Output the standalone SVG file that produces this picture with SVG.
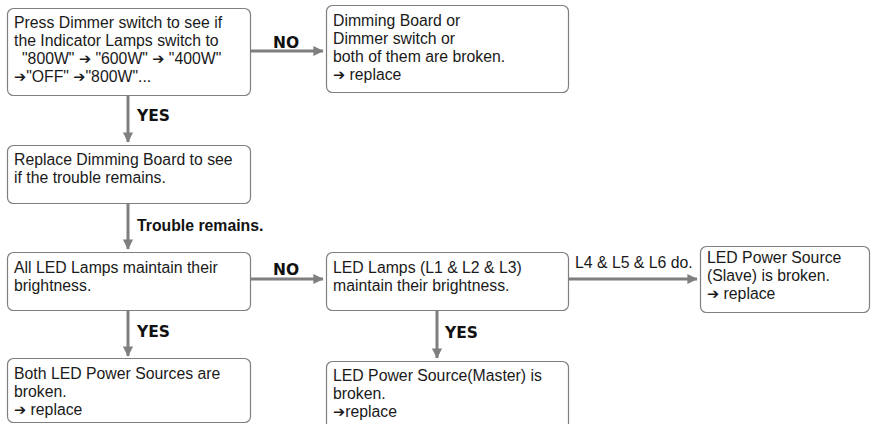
<svg xmlns="http://www.w3.org/2000/svg" width="873" height="424" viewBox="0 0 873 424">
<defs>
<marker id="ah" markerWidth="4" markerHeight="4" refX="3.2" refY="2" orient="auto" markerUnits="strokeWidth">
<path d="M0,0.3 L3.4,2 L0,3.7 Z" fill="#7f7f7f"/>
</marker>
<style>
.box{fill:#fff;stroke:#7f7f7f;stroke-width:1.2}
.t{font-family:"Liberation Sans",Arial,sans-serif;font-size:15.8px;fill:#1a1a1a}
.lb{font-family:"Liberation Sans",Arial,sans-serif;font-size:15.8px;font-weight:bold;fill:#111}
.h{font-family:"DejaVu Sans",sans-serif;font-size:15.5px;font-weight:bold;fill:#111}
.a{font-family:"DejaVu Sans",sans-serif;font-size:14.5px}
.c{stroke:#7f7f7f;stroke-width:3;fill:none;marker-end:url(#ah)}
</style>
</defs>
<rect width="873" height="424" fill="#fff"/>
<g id="connectors">
<line class="c" x1="250" y1="51" x2="323" y2="51"/>
<line class="c" x1="128" y1="96" x2="128" y2="142"/>
<line class="c" x1="128" y1="204" x2="128" y2="249"/>
<line class="c" x1="250" y1="279" x2="323" y2="279"/>
<line class="c" x1="569" y1="279" x2="697" y2="279"/>
<line class="c" x1="128" y1="311" x2="128" y2="356"/>
<line class="c" x1="437" y1="311" x2="437" y2="358"/>
<text class="h" x="273" y="48">NO</text>
<text class="h" x="137" y="121">YES</text>
<text class="lb" x="137" y="231">Trouble remains.</text>
<text class="h" x="273" y="275">NO</text>
<text class="t" x="575" y="268">L4 &amp; L5 &amp; L6 do.</text>
<text class="h" x="137" y="337">YES</text>
<text class="h" x="445" y="338">YES</text>
</g>
<g id="n1">
<rect class="box" x="7.5" y="8.5" width="243" height="87" rx="6"/>
<text class="t" x="14" y="28">Press Dimmer switch to see if</text>
<text class="t" x="14" y="46">the Indicator Lamps switch to</text>
<text class="t" x="22" y="64">"800W" <tspan class="a">➔</tspan> "600W" <tspan class="a">➔</tspan> "400W"</text>
<text class="t" x="14" y="82"><tspan class="a">➔</tspan>"OFF" <tspan class="a">➔</tspan>"800W"...</text>
</g>
<g id="n2">
<rect class="box" x="326.5" y="5.5" width="242" height="87" rx="6"/>
<text class="t" x="333" y="26">Dimming Board or</text>
<text class="t" x="333" y="44">Dimmer switch or</text>
<text class="t" x="333" y="62">both of them are broken.</text>
<text class="t" x="333" y="80"><tspan class="a">➔</tspan> replace</text>
</g>
<g id="n3">
<rect class="box" x="7.5" y="145.5" width="243" height="58" rx="6"/>
<text class="t" x="14" y="165">Replace Dimming Board to see</text>
<text class="t" x="14" y="183">if the trouble remains.</text>
</g>
<g id="n4">
<rect class="box" x="7.5" y="252.5" width="243" height="58" rx="6"/>
<text class="t" x="14" y="273">All LED Lamps maintain their</text>
<text class="t" x="14" y="291">brightness.</text>
</g>
<g id="n5">
<rect class="box" x="326.5" y="252.5" width="242" height="58" rx="6"/>
<text class="t" x="333" y="273">LED Lamps (L1 &amp; L2 &amp; L3)</text>
<text class="t" x="333" y="291">maintain their brightness.</text>
</g>
<g id="n6">
<rect class="box" x="7.5" y="358.5" width="243" height="64" rx="6"/>
<text class="t" x="14" y="379">Both LED Power Sources are</text>
<text class="t" x="14" y="397">broken.</text>
<text class="t" x="14" y="415"><tspan class="a">➔</tspan> replace</text>
</g>
<g id="n7">
<rect class="box" x="326.5" y="361.5" width="242" height="68" rx="6"/>
<text class="t" x="333" y="381">LED Power Source(Master) is</text>
<text class="t" x="333" y="399">broken.</text>
<text class="t" x="333" y="417"><tspan class="a">➔</tspan>replace</text>
</g>
<g id="n8">
<rect class="box" x="700.5" y="246.5" width="169" height="66" rx="6"/>
<text class="t" x="707" y="263">LED Power Source</text>
<text class="t" x="707" y="281">(Slave) is broken.</text>
<text class="t" x="707" y="299"><tspan class="a">➔</tspan> replace</text>
</g>
</svg>
